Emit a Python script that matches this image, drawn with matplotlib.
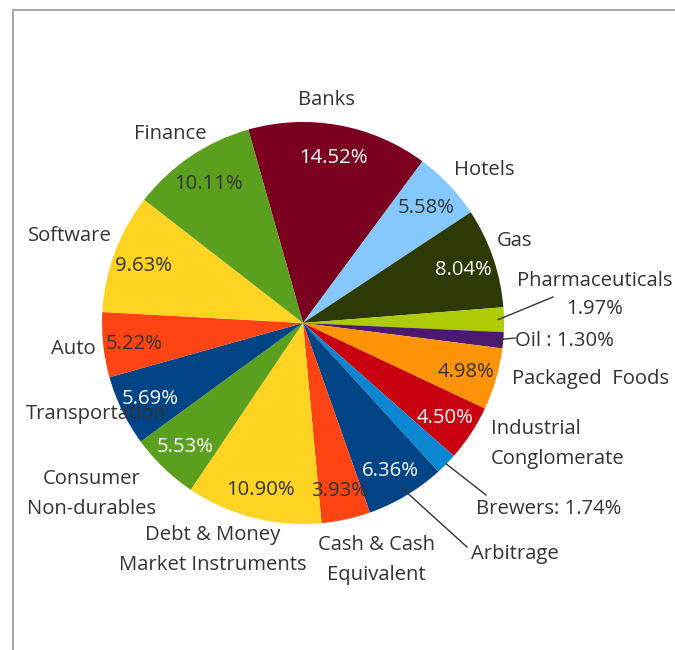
import numpy as np
import matplotlib
matplotlib.use("Agg")
from matplotlib import pyplot as plt
from matplotlib.lines import Line2D

plt.rcParams['font.family'] = ['Open Sans', 'DejaVu Sans']

# 数据
sectors = ['Banks', 'Hotels', 'Gas', 'Pharmaceuticals', 'Oil', 'Packaged  Foods',
           'Industrial\nConglomerate', 'Brewers', 'Arbitrage', 'Cash & Cash\nEquivalent',
           'Debt & Money\nMarket Instruments', 'Consumer\nNon-durables', 'Transportation',
           'Auto', 'Software', 'Finance']
weights = [14.52, 5.58, 8.04, 1.97, 1.30, 4.98, 4.50, 1.74, 6.36, 3.93,
           10.90, 5.53, 5.69, 5.22, 9.63, 10.11]
colors = ['#7b0020', '#85c8fe', '#2e3a05', '#afcb06', '#4b1a6e', '#fe9307',
          '#c8000f', '#0a87d0', '#004486', '#fe4412', '#fed322', '#5aa01e',
          '#004486', '#fe4412', '#fed322', '#5aa01e']
pct_color = ['white', '#333333', 'white', None, None, '#333333', 'white', None,
             'white', '#333333', '#333333', 'white', 'white', '#333333', '#333333', '#333333']

W, H = 675, 650
CX, CY, R = 303, H - 323, 201
TXT = '#333333'
FS = 14.6

# 外部标签位置 (图像像素, y 向下), 对齐方式
label_pos = [(326, 98, 'center'), (454, 168, 'left'), (497, 239, 'left'),
             (595, 293, 'center'), (515, 339, 'left'), (512, 377, 'left'),
             (491, 442, 'left'), (476, 507, 'left'), (471, 552, 'left'),
             (376, 558, 'center'), (213, 548, 'center'), (92, 492, 'center'),
             (96, 412, 'center'), (96, 347, 'right'), (112, 234, 'right'),
             (170, 132, 'center')]
# 引线 (楔形上的半径比例, 线终点)
leaders = {3: (0.97, (553, 297)), 4: (0.97, (515, 338)),
           7: (1.0, (486, 495)), 8: (0.955, (467, 547))}
# 带数值的外部标签
inline_value = {3: '{}\n{:.2f}%', 4: '{} : {:.2f}%', 7: '{}: {:.2f}%'}


def draw():
    fig = plt.figure(figsize=(W / 100, H / 100), dpi=100)
    ax = fig.add_axes([0, 0, 1, 1])

    wedges, _ = ax.pie(weights, colors=colors, startangle=105.8, counterclock=False,
                       center=(CX, CY), radius=R, wedgeprops=dict(linewidth=0))
    # pie 会重设坐标范围, 之后再设
    ax.set_xlim(0, W)
    ax.set_ylim(0, H)
    ax.set_aspect('equal')
    ax.axis('off')

    for i, w in enumerate(wedges):
        mid = np.deg2rad((w.theta1 + w.theta2) / 2)
        if pct_color[i] is not None:
            ax.text(CX + 0.845 * R * np.cos(mid), CY + 0.845 * R * np.sin(mid) - 2,
                    '{:.2f}%'.format(weights[i]), ha='center', va='center',
                    fontsize=FS, color=pct_color[i])
        name = sectors[i]
        if i in inline_value:
            name = inline_value[i].format(sectors[i], weights[i])
        lx, ly, ha = label_pos[i]
        ax.text(lx, H - ly - 2, name, ha=ha, va='center', fontsize=FS, color=TXT,
                linespacing=1.65 if i != 3 else 1.5,
                multialignment='center' if ha == 'center' else 'left')
        if i in leaders:
            rf, (ex, ey) = leaders[i]
            sx, sy = CX + rf * R * np.cos(mid), CY + rf * R * np.sin(mid)
            ax.add_line(Line2D([sx, ex], [sy, H - ey], color=TXT, lw=1))

    # 边框
    fig.add_artist(Line2D([13 / W, 1], [1 - 10 / H, 1 - 10 / H], color='#aaaaaa', lw=1.5))
    fig.add_artist(Line2D([13 / W, 13 / W], [0, 1 - 10 / H], color='#aaaaaa', lw=1.5))

    fig.savefig('out.png', dpi=100)


if __name__ == '__main__':
    draw()
